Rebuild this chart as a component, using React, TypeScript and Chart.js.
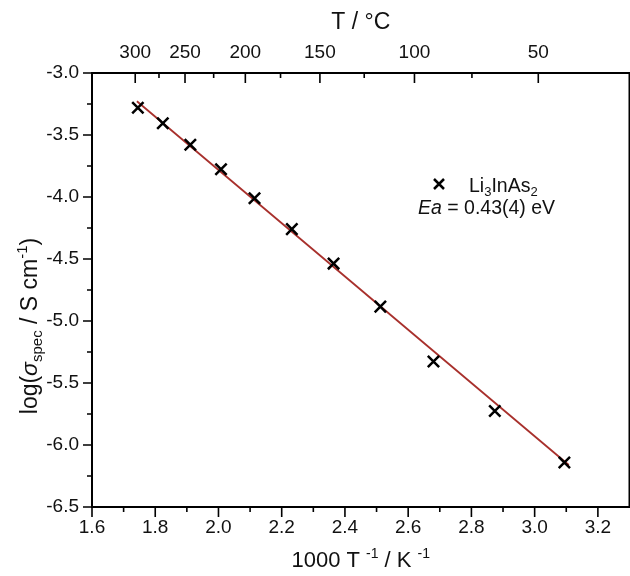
import React, { useEffect, useRef } from 'react';
import { Chart, registerables } from 'chart.js';

Chart.register(...registerables);

// ---- data ----
const invT = [1.745, 1.824, 1.911, 2.008, 2.114, 2.232, 2.364, 2.512, 2.68, 2.874, 3.094];
const logSigma = [-3.28, -3.405, -3.579, -3.776, -4.01, -4.259, -4.537, -4.884, -5.327, -5.726, -6.141];
const fitX = [1.742, 3.108];
const fitY = [-3.228, -6.161];

// ---- tick values / labels ----
const xMajorTicks = [1.6, 1.8, 2.0, 2.2, 2.4, 2.6, 2.8, 3.0, 3.2];
const xMinorTicks = [1.7, 1.9, 2.1, 2.3, 2.5, 2.7, 2.9, 3.1];
const yMajorTicks = [-3.0, -3.5, -4.0, -4.5, -5.0, -5.5, -6.0, -6.5];
const yMinorTicks = [-3.25, -3.75, -4.25, -4.75, -5.25, -5.75, -6.25];
const topMajorC = [300, 250, 200, 150, 100, 50];
const topMinorC = [275, 225, 175, 125, 75];

// ---- texts ----
type Part = { t: string; s?: 'sub' | 'sup' | 'it' };
const topTitle: Part[] = [{ t: 'T / °C' }];
const bottomTitle: Part[] = [{ t: '1000 T ' }, { t: '-1', s: 'sup' }, { t: ' / K ' }, { t: '-1', s: 'sup' }];
const yTitle: Part[] = [{ t: 'log(' }, { t: 'σ', s: 'it' }, { t: 'spec', s: 'sub' }, { t: ' / S cm' }, { t: '-1', s: 'sup' }, { t: ')' }];
const seriesLabel: Part[] = [{ t: 'Li' }, { t: '3', s: 'sub' }, { t: 'InAs' }, { t: '2', s: 'sub' }];
const eaLabel: Part[] = [{ t: 'Ea', s: 'it' }, { t: ' = 0.43(4) eV' }];

const FONT = '"Liberation Sans", Arial, Helvetica, sans-serif';
const TEXT = '#111';

function fontFor(p: Part, size: number) {
  if (p.s === 'sub' || p.s === 'sup') return `${Math.round(size * 0.65)}px ${FONT}`;
  if (p.s === 'it') return `italic ${size}px ${FONT}`;
  return `${size}px ${FONT}`;
}

function drawRich(ctx: CanvasRenderingContext2D, parts: Part[], x: number, y: number, size: number, align: 'left' | 'center') {
  ctx.textAlign = 'left';
  ctx.textBaseline = 'alphabetic';
  let w = 0;
  for (const p of parts) {
    ctx.font = fontFor(p, size);
    w += ctx.measureText(p.t).width;
  }
  let cx = align === 'center' ? x - w / 2 : x;
  for (const p of parts) {
    ctx.font = fontFor(p, size);
    const dy = p.s === 'sub' ? size * 0.22 : p.s === 'sup' ? -size * 0.42 : 0;
    ctx.fillText(p.t, cx, y + dy);
    cx += ctx.measureText(p.t).width;
  }
}

const toInv = (c: number) => 1000 / (c + 273.15);

const framePlugin = {
  id: 'frameAndText',
  afterDraw(chart: any) {
    const { ctx, chartArea: ca } = chart;
    const xs = chart.scales.x;
    const xt = chart.scales.x2;
    const ys = chart.scales.y;
    ctx.save();
    ctx.strokeStyle = '#000';
    // frame
    ctx.lineWidth = 2;
    ctx.lineCap = 'square';
    ctx.beginPath();
    ctx.moveTo(ca.left, ca.bottom);
    ctx.lineTo(ca.left, ca.top);
    ctx.lineTo(ca.right, ca.top);
    ctx.lineTo(ca.right, ca.bottom);
    ctx.closePath();
    ctx.stroke();
    // ticks
    ctx.lineCap = 'butt';
    ctx.lineWidth = 1.6;
    ctx.beginPath();
    for (const v of xMajorTicks) {
      const px = xs.getPixelForValue(v);
      ctx.moveTo(px, ca.bottom);
      ctx.lineTo(px, ca.bottom + 10);
    }
    for (const v of xMinorTicks) {
      const px = xs.getPixelForValue(v);
      ctx.moveTo(px, ca.bottom);
      ctx.lineTo(px, ca.bottom + 5);
    }
    for (const v of yMajorTicks) {
      const py = ys.getPixelForValue(v);
      ctx.moveTo(ca.left, py);
      ctx.lineTo(ca.left - 9, py);
    }
    for (const v of yMinorTicks) {
      const py = ys.getPixelForValue(v);
      ctx.moveTo(ca.left, py);
      ctx.lineTo(ca.left - 5, py);
    }
    for (const c of topMajorC) {
      const px = xt.getPixelForValue(toInv(c));
      ctx.moveTo(px, ca.top);
      ctx.lineTo(px, ca.top + 10);
    }
    for (const c of topMinorC) {
      const px = xt.getPixelForValue(toInv(c));
      ctx.moveTo(px, ca.top);
      ctx.lineTo(px, ca.top + 5);
    }
    ctx.stroke();

    // axis titles
    ctx.fillStyle = TEXT;
    const cxMid = (ca.left + ca.right) / 2;
    drawRich(ctx, topTitle, cxMid, 29, 23, 'center');
    drawRich(ctx, bottomTitle, cxMid, 567, 22, 'center');
    ctx.save();
    ctx.translate(37, ca.top + 253);
    ctx.rotate(-Math.PI / 2);
    drawRich(ctx, yTitle, 0, 0, 23, 'center');
    ctx.restore();

    // legend
    const lx = ca.left + 347;
    const ly = ca.top + 111;
    ctx.lineWidth = 2.5;
    ctx.beginPath();
    ctx.moveTo(lx - 5, ly - 5);
    ctx.lineTo(lx + 5, ly + 5);
    ctx.moveTo(lx + 5, ly - 5);
    ctx.lineTo(lx - 5, ly + 5);
    ctx.stroke();
    drawRich(ctx, seriesLabel, lx + 30, ly + 8, 19.5, 'left');
    drawRich(ctx, eaLabel, lx - 21, ly + 30, 19.5, 'left');
    ctx.restore();
  },
};

function buildTicks(major: number[], minor: number[]) {
  const all = [
    ...major.map((v) => ({ value: v, lbl: v.toFixed(1) })),
    ...minor.map((v) => ({ value: v, lbl: '' })),
  ];
  all.sort((a, b) => a.value - b.value);
  return all;
}

export default function App() {
  const ref = useRef<HTMLCanvasElement | null>(null);

  useEffect(() => {
    document.body.style.margin = '0';
    const canvas = ref.current;
    if (!canvas) return;
    const tickFont = { family: FONT, size: 19 };
    const labelCb = (_v: any, i: number, ticks: any[]) => (ticks[i] && ticks[i].lbl) || '';
    const chart = new Chart(canvas, {
      type: 'scatter',
      data: {
        datasets: [
          {
            type: 'scatter',
            label: 'Li3InAs2',
            data: invT.map((x, i) => ({ x, y: logSigma[i] })),
            pointStyle: 'crossRot',
            pointRadius: 8,
            pointHoverRadius: 8,
            pointBorderWidth: 2.5,
            borderColor: '#000',
            backgroundColor: '#000',
            order: 0,
          } as any,
          {
            type: 'line',
            label: 'fit',
            data: fitX.map((x, i) => ({ x, y: fitY[i] })),
            borderColor: '#a8302c',
            borderWidth: 1.8,
            pointRadius: 0,
            fill: false,
            showLine: true,
            order: 1,
          } as any,
        ],
      },
      options: {
        animation: false,
        responsive: false,
        maintainAspectRatio: false,
        events: [],
        layout: { padding: { left: 0, right: 7.5, top: 0, bottom: 0 } },
        plugins: { legend: { display: false }, tooltip: { enabled: false } },
        scales: {
          x: {
            type: 'linear',
            position: 'bottom',
            min: 1.6,
            max: 3.3,
            afterBuildTicks: (s: any) => {
              s.ticks = buildTicks(xMajorTicks, xMinorTicks);
            },
            afterFit: (s: any) => {
              s.height = 69;
            },
            ticks: { callback: labelCb, font: tickFont, color: TEXT, padding: 9, autoSkip: false, maxRotation: 0 },
            grid: { display: false, drawTicks: false },
            border: { display: false },
          },
          x2: {
            type: 'linear',
            axis: 'x',
            position: 'top',
            min: 1.6,
            max: 3.4,
            afterBuildTicks: (s: any) => {
              const all = [
                ...topMajorC.map((c) => ({ value: toInv(c), lbl: String(c) })),
                ...topMinorC.map((c) => ({ value: toInv(c), lbl: '' })),
              ];
              all.sort((a, b) => a.value - b.value);
              s.ticks = all;
            },
            afterFit: (s: any) => {
              s.height = 73;
            },
            ticks: { callback: labelCb, font: tickFont, color: TEXT, padding: 9, autoSkip: false, maxRotation: 0 },
            grid: { display: false, drawTicks: false },
            border: { display: false },
          },
          y: {
            type: 'linear',
            position: 'left',
            min: -6.5,
            max: -3.0,
            afterBuildTicks: (s: any) => {
              s.ticks = buildTicks(yMajorTicks, yMinorTicks);
            },
            afterFit: (s: any) => {
              s.width = 92;
            },
            ticks: { callback: labelCb, font: tickFont, color: TEXT, padding: 13, autoSkip: false },
            grid: { display: false, drawTicks: false },
            border: { display: false },
          },
        },
      } as any,
      plugins: [framePlugin],
    });
    return () => chart.destroy();
  }, []);

  return (
    <div style={{ width: 630, height: 576, overflow: 'hidden', position: 'relative', background: '#fff' }}>
      <canvas ref={ref} width={640} height={576} style={{ display: 'block', width: 640, height: 576 }} />
    </div>
  );
}
